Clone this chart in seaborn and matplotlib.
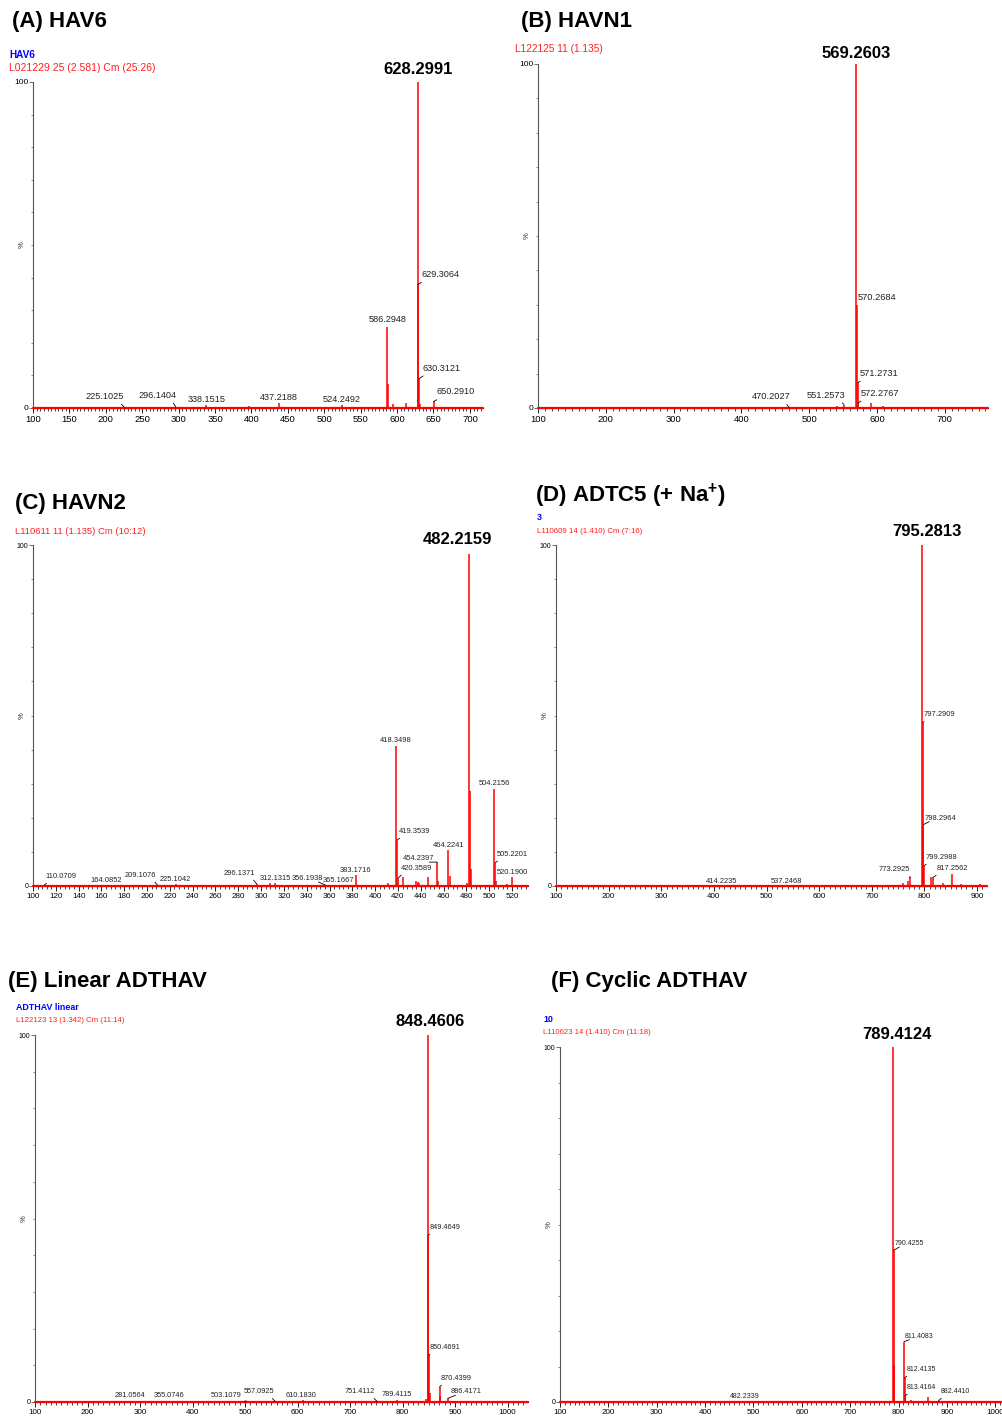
import numpy as np
import pandas as pd
import seaborn as sns
import matplotlib.pyplot as plt
from matplotlib.ticker import MultipleLocator

# Peak lists: m/z and relative intensity (%)
A_mz = [225.1025, 296.1404, 338.1515, 396.2, 437.2188, 524.2492, 586.2948, 587.30,
        594.3, 612.3, 628.2991, 629.3064, 630.3121, 631.31, 650.2910]
A_int = [0.3, 0.3, 0.8, 0.7, 1.5, 0.8, 25, 7.5, 1.2, 1.5, 100, 38, 9, 1.2, 2.0]

B_mz = [470.2027, 541.3, 551.2573, 569.2603, 570.2684, 571.2731, 572.2767, 591.2, 608.3]
B_int = [0.2, 0.5, 1.0, 100, 30, 7.3, 1.5, 1.5, 0.7]

C_mz = [110.0709, 164.0852, 209.1076, 225.1042, 296.1371, 308.1, 312.1315, 356.1938,
        365.1667, 383.1716, 411.2, 418.3498, 419.3539, 420.3589, 424.2, 436.2, 437.2,
        438.2, 446.2, 454.2397, 455.2, 464.2241, 465.2, 480.2, 482.2159, 483.2195,
        484.22, 504.2156, 505.2201, 506.2, 515.2, 520.1900]
C_int = [0.3, 0.3, 0.3, 0.5, 0.6, 0.8, 0.8, 0.3, 0.3, 3.2, 1.0, 41, 13.5, 2.4, 2.5,
         1.5, 1.3, 1.0, 2.5, 7.0, 1.5, 10.5, 3.0, 1.0, 97.5, 28, 5, 28.5, 6.8, 1.5,
         0.6, 2.5]

D_mz = [414.2235, 537.2468, 760.3, 768.3, 773.2925, 795.2813, 797.2909, 798.2964,
        799.2988, 812.3, 817.2562, 835.3, 853.3, 870.3, 905.3]
D_int = [0.2, 0.2, 1.0, 1.5, 2.5, 100, 48, 18, 5.9, 2.5, 2.6, 0.8, 3.5, 0.5, 0.7]

E_mz = [281.0564, 355.0746, 503.1079, 557.0925, 610.1830, 751.4112, 789.4115, 845.4,
        848.4606, 849.4649, 850.4691, 851.47, 870.4399, 871.44, 886.4171]
E_int = [0.2, 0.2, 0.2, 0.2, 0.5, 0.2, 0.5, 0.8, 100, 45.5, 12.8, 2.5, 4.1, 1.5, 1.0]

F_mz = [482.2339, 789.4124, 790.4255, 791.43, 811.4083, 812.4135, 813.4164, 826.4,
        860.4, 882.4410]
F_int = [0.2, 100, 42.8, 10.4, 17, 6.8, 1.7, 0.5, 1.5, 0.3]

# labelled peaks: (m/z, placement, dx px, dy px)
A_labels = [(225.1025, 'r', 0, 6), (296.1404, 'r', 1, 7), (338.1515, 'c', 0, 1),
            (437.2188, 'c', 0, 1), (524.2492, 'c', 0, 1), (586.2948, 'c', 0, 2),
            (629.3064, 'l', 3, 5), (630.3121, 'l', 3, 6), (650.2910, 'l', 3, 5)]
B_labels = [(470.2027, 'r', 1, 6), (551.2573, 'r', 1, 5), (570.2684, 'n', 1, 3),
            (571.2731, 'l', 2, 5), (572.2767, 'l', 2, 5)]
C_labels = [(110.0709, 'l', 1, 5), (164.0852, 'c', 0, 1), (209.1076, 'r', -1, 6),
            (225.1042, 'c', 0, 1), (296.1371, 'r', -1, 7), (312.1315, 'c', 0, 1),
            (356.1938, 'r', -2, 3), (365.1667, 'c', 3, 1), (383.1716, 'c', 0, 1),
            (418.3498, 'c', 0, 2), (419.3539, 'l', 2, 5), (420.3589, 'l', 2, 6),
            (454.2397, 'r', -3, 0), (464.2241, 'c', 0, 1), (504.2156, 'c', 0, 2),
            (505.2201, 'l', 2, 5), (520.1900, 'c', 0, 1)]
D_labels = [(414.2235, 'c', 0, 0), (537.2468, 'c', 0, 0), (773.2925, 'r', 0, 4),
            (797.2909, 'l', 1, 4), (798.2964, 'l', 1, 3), (799.2988, 'l', 2, 5),
            (817.2562, 'l', 3, 5)]
E_labels = [(281.0564, 'c', 0, 2), (355.0746, 'c', 0, 2), (503.1079, 'r', -5, 2),
            (557.0925, 'r', -1, 6), (610.1830, 'c', -2, 1), (751.4112, 'r', -2, 6),
            (789.4115, 'c', 0, 2), (849.4649, 'l', 1, 4), (850.4691, 'l', 1, 4),
            (870.4399, 'l', 1, 5), (886.4171, 'l', 3, 3)]
F_labels = [(482.2339, 'c', 0, 1), (790.4255, 'l', 1, 3), (811.4083, 'l', 1, 2),
            (812.4135, 'l', 2, 5), (813.4164, 'l', 2, 5), (882.4410, 'l', 2, 6)]

sns.set_theme(style="ticks")
REG = ['Liberation Sans', 'DejaVu Sans']
plt.rcParams['font.family'] = REG
plt.rcParams['text.color'] = 'black'
plt.rcParams['xtick.labelcolor'] = 'black'
plt.rcParams['ytick.labelcolor'] = 'black'
plt.rcParams['mathtext.fontset'] = 'custom'
plt.rcParams['mathtext.bf'] = 'Liberation Sans:bold'
plt.rcParams['mathtext.rm'] = 'Liberation Sans'

W, H = 1003, 1417
fig = plt.figure(figsize=(W / 100, H / 100), dpi=100)
fig.patch.set_facecolor('white')


def box(l, t, r, b):
    return [l / W, 1 - b / H, (r - l) / W, (b - t) / H]


def ftext(x, y, s, **kw):
    fig.text(x / W, 1 - y / H, s, va='center', family=REG, **kw)


def spectrum(pos, mz, inten, xmax, major, minor, main, labels, lsize, tsize):
    ax = fig.add_axes(box(*pos))
    ax.set_facecolor('white')
    df = pd.DataFrame({'mz': mz, 'int': inten})
    ax.vlines(df['mz'], 0, df['int'], color='#ff0000', lw=1.1, clip_on=False, zorder=3)
    ax.axhline(0, color='#ff0000', lw=1.6, zorder=4, clip_on=False)
    ax.set_xlim(100, xmax)
    ax.set_ylim(0, 100)
    sns.despine(ax=ax)
    ax.spines['left'].set_color('#555555')
    ax.spines['left'].set_linewidth(0.8)
    ax.spines['bottom'].set_color('black')
    ax.spines['bottom'].set_linewidth(0.8)
    ax.xaxis.set_major_locator(MultipleLocator(major))
    ax.xaxis.set_minor_locator(MultipleLocator(minor))
    ax.set_yticks([0, 100])
    ax.yaxis.set_minor_locator(MultipleLocator(10))
    ax.tick_params(axis='x', which='major', length=3.5, width=0.6, pad=1.5,
                   labelsize=tsize, color='black')
    ax.tick_params(axis='x', which='minor', length=2, width=0.5, color='black')
    ax.tick_params(axis='y', which='major', length=3, width=0.6, pad=0.5,
                   labelsize=tsize - 0.8, color='#555555')
    ax.tick_params(axis='y', which='minor', length=1.5, width=0.5, color='#555555')
    ax.set_ylabel('%', fontsize=5.5)
    ax.yaxis.set_label_coords(-7 / (pos[2] - pos[0]), 0.5)
    ax.grid(False)

    peak = dict(zip(mz, inten))
    for m, kind, dx, dy in labels:
        ha = {'c': 'center', 'l': 'left', 'n': 'left', 'r': 'right'}[kind]
        arrow = None
        if kind in 'lr':
            arrow = dict(arrowstyle='-', color='black', lw=0.6, shrinkA=0, shrinkB=0,
                         relpos=(0.15, 0) if kind == 'l' else (0.85, 0))
        ax.annotate(f"{m:.4f}", (m, peak[m]), xytext=(dx, dy), textcoords='offset pixels',
                    ha=ha, va='bottom', fontsize=lsize, color='#222222',
                    arrowprops=arrow, annotation_clip=False, zorder=5)
    m, dx, dy = main
    ax.annotate(f"{m:.4f}", (m, 100), xytext=(dx, dy), textcoords='offset pixels',
                ha='center', va='bottom', fontsize=12, fontweight='bold',
                annotation_clip=False)
    return ax


spectrum((33, 82, 483, 408), A_mz, A_int, 718, 50, 5, (628.2991, 0, 5), A_labels,
         6.6, 6.8)
spectrum((538, 64, 988, 408), B_mz, B_int, 763.7, 100, 10, (569.2603, 0, 3), B_labels,
         6.7, 6.8)
spectrum((33, 545, 528, 886), C_mz, C_int, 534, 20, 4, (482.2159, -11, -2), C_labels,
         5.4, 5.8)
spectrum((556, 545, 987, 886), D_mz, D_int, 919, 100, 10, (795.2813, 5, 6), D_labels,
         5.4, 5.8)
spectrum((35, 1035, 528, 1402), E_mz, E_int, 1039, 100, 10, (848.4606, 2, 6), E_labels,
         5.3, 5.8)
spectrum((560, 1047, 1003, 1402), F_mz, F_int, 1016, 100, 10, (789.4124, 4, 5), F_labels,
         5.0, 5.8)

# panel titles
tkw = dict(fontsize=16, fontweight='bold', ha='left')
ftext(12, 22, '(A) HAV6', **tkw)
ftext(521, 22, '(B) HAVN1', **tkw)
ftext(15, 503, '(C) HAVN2', **tkw)
ftext(535, 496, r'(D) ADTC5 (+ Na$\mathbf{^{+}}$)', **tkw)
ftext(8, 981, '(E) Linear ADTHAV', **tkw)
ftext(551, 982, '(F) Cyclic ADTHAV', **tkw)

# acquisition headers
blue = dict(color='#0000ff', fontweight='bold', ha='left')
red = dict(color='#ff2020', ha='left')
ftext(9, 55, 'HAV6', fontsize=7.2, **blue)
ftext(9, 68, 'L021229 25 (2.581) Cm (25:26)', fontsize=7.5, **red)
ftext(515, 49, 'L122125 11 (1.135)', fontsize=7.3, **red)
ftext(15, 531, 'L110611 11 (1.135) Cm (10:12)', fontsize=6.8, **red)
ftext(537, 518, '3', fontsize=6.4, **blue)
ftext(537, 531, 'L110609 14 (1.410) Cm (7:16)', fontsize=5.7, **red)
ftext(16, 1007, 'ADTHAV linear', fontsize=6.4, **blue)
ftext(16, 1020, 'L122123 13 (1.342) Cm (11:14)', fontsize=5.6, **red)
ftext(543, 1020, '10', fontsize=6.4, **blue)
ftext(543, 1032, 'L110623 14 (1.410) Cm (11:18)', fontsize=5.6, **red)

fig.savefig('out.png', dpi=100)
